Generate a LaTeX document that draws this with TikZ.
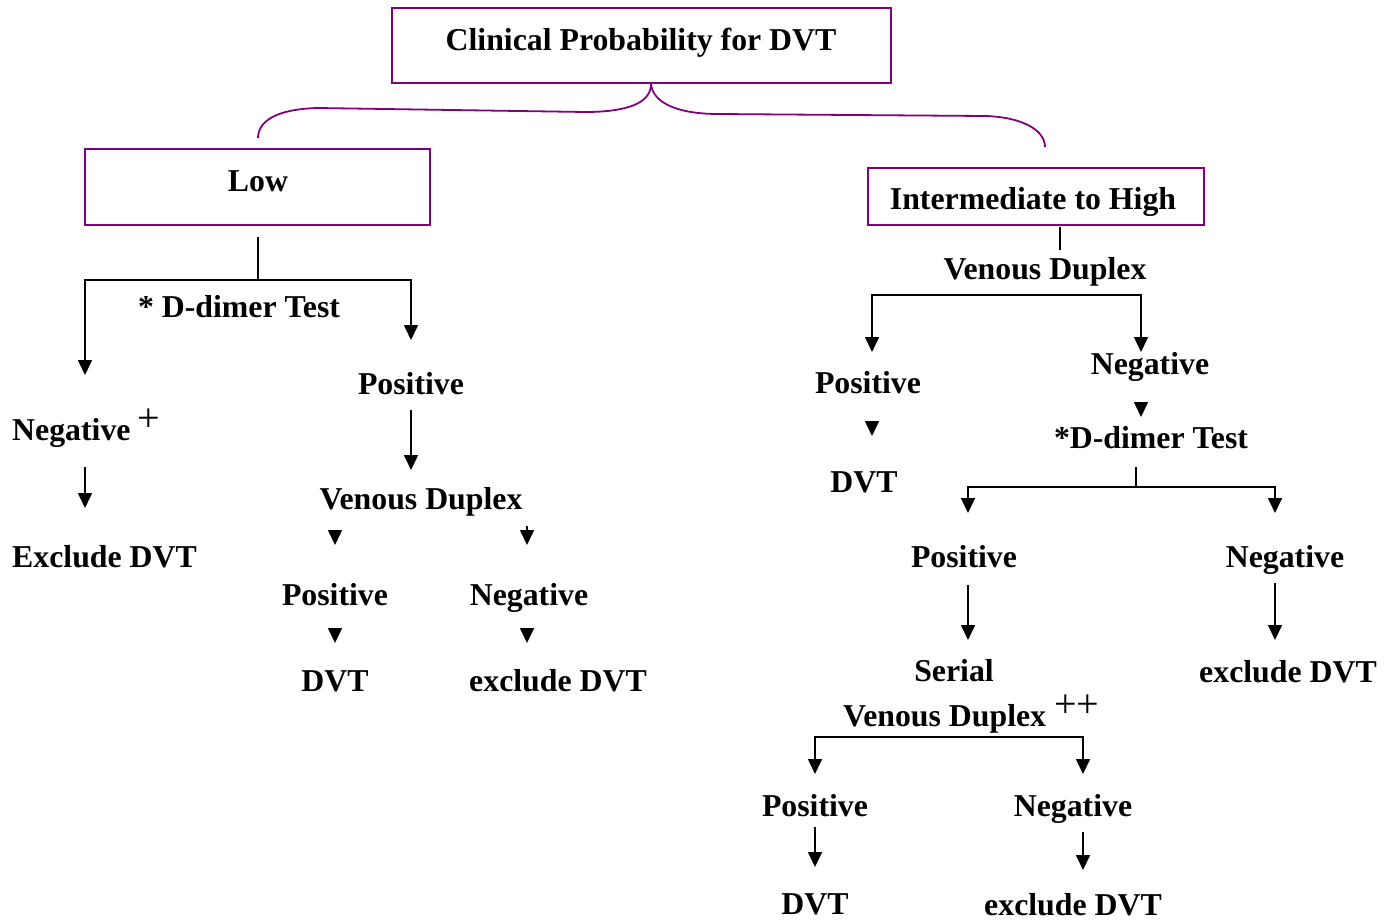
\documentclass[tikz,border=0pt]{standalone}
\usepackage{fontspec}
\setmainfont{Liberation Serif}
\usetikzlibrary{arrows.meta}
\definecolor{boxpurple}{RGB}{128,0,128}
\newcommand{\supplus}[1]{\raisebox{0.26em}{\fontsize{40}{44}\selectfont\mdseries #1}}
\begin{document}
\begin{tikzpicture}[x=1pt,y=-1pt,
  lbl/.style={font=\fontsize{31.8}{38}\selectfont\bfseries, inner sep=0pt, anchor=base},
  lblw/.style={lbl, anchor=base west},
  pbox/.style={draw=boxpurple, line width=1.8pt},
  brace/.style={draw=boxpurple, line width=1.8pt},
  conn/.style={draw=black, line width=1.6pt},
  arr/.style={conn, -{Triangle[width=14pt,length=15pt]}}
]
\useasboundingbox (0,0) rectangle (1392,921);

% boxes
\draw[pbox] (392,8) rectangle (891,83);
\node[lbl] (title) at (641,50) {Clinical Probability for DVT};
\draw[pbox] (85,149) rectangle (430,225);
\node[lbl] (low) at (258,191) {Low};
\draw[pbox] (868,168) rectangle (1204,225);
\node[lbl] (high) at (1033,209) {Intermediate to High};

% brace
\coordinate (tip) at (651,84);
\coordinate (bl) at (258,138);
\coordinate (br) at (1045,147);
\draw[brace] (tip) .. controls (651,104) and (625,112) .. (585,112) -- (318,108) .. controls (275,109) and (258,122) .. (bl);
\draw[brace] (tip) .. controls (653,104) and (680,114) .. (718,114) -- (985,116) .. controls (1022,117) and (1045,130) .. (br);

% ---------- left branch ----------
\coordinate (l0) at (258,237);
\coordinate (l1) at (258,280);
\coordinate (lL) at (85,280);
\coordinate (lR) at (411,280);
\coordinate (lLt) at (85,375);
\coordinate (lRt) at (411,340);
\draw[conn] (l0) -- (l1);
\draw[arr] (l1) -- (lL) -- (lLt);
\draw[arr] (l1) -- (lR) -- (lRt);
\node[lbl] (ddl) at (239,317) {* D-dimer Test};
\node[lbl] (posl) at (411,394) {Positive};
\node[lblw] (negl) at (12,440) {Negative\hspace{7pt}\supplus{+}};
\coordinate (a1s) at (85,467);
\coordinate (a1e) at (85,508);
\draw[arr] (a1s) -- (a1e);
\node[lblw] (exl) at (12,567) {Exclude DVT};
\coordinate (a2s) at (411,410);
\coordinate (a2e) at (411,470);
\draw[arr] (a2s) -- (a2e);
\node[lbl] (vdl) at (421,509) {Venous Duplex};
\coordinate (h1s) at (335,530);
\coordinate (h1e) at (335,545);
\coordinate (h2s) at (527,526);
\coordinate (h2e) at (527,545);
\draw[arr] (h1s) -- (h1e);
\draw[arr] (h2s) -- (h2e);
\node[lbl] (posl2) at (335,605) {Positive};
\node[lbl] (negl2) at (529,605) {Negative};
\coordinate (h3s) at (335,628);
\coordinate (h3e) at (335,643);
\coordinate (h4s) at (527,628);
\coordinate (h4e) at (527,643);
\draw[arr] (h3s) -- (h3e);
\draw[arr] (h4s) -- (h4e);
\node[lbl] (dvtl) at (335,691) {DVT};
\node[lbl] (exl2) at (558,691) {exclude DVT};

% ---------- right branch ----------
\coordinate (r0) at (1060,227);
\coordinate (r0e) at (1060,250);
\draw[conn] (r0) -- (r0e);
\node[lbl] (vdr) at (1045,279) {Venous Duplex};
\coordinate (rL) at (872,295);
\coordinate (rR) at (1141,295);
\coordinate (rLt) at (872,352);
\coordinate (rRt) at (1141,352);
\draw[arr] (rR) -- (rL) -- (rLt);
\draw[arr] (rL) -- (rR) -- (rRt);
\node[lbl] (posr) at (868,393) {Positive};
\node[lbl] (negr) at (1150,374) {Negative};
\coordinate (h5s) at (1141,402);
\coordinate (h5e) at (1141,417);
\draw[arr] (h5s) -- (h5e);
\node[lbl] (ddr) at (1151,448) {*D-dimer Test};
\coordinate (h6s) at (872,421);
\coordinate (h6e) at (872,436);
\draw[arr] (h6s) -- (h6e);
\node[lbl] (dvtr) at (864,492) {DVT};
\coordinate (r1) at (1136,467);
\coordinate (r2) at (1136,487);
\coordinate (r2L) at (968,487);
\coordinate (r2R) at (1275,487);
\coordinate (r2Lt) at (968,513);
\coordinate (r2Rt) at (1275,513);
\draw[conn] (r1) -- (r2);
\draw[arr] (r2) -- (r2L) -- (r2Lt);
\draw[arr] (r2) -- (r2R) -- (r2Rt);
\node[lbl] (posr2) at (964,567) {Positive};
\node[lbl] (negr2) at (1285,567) {Negative};
\coordinate (a3s) at (968,585);
\coordinate (a3e) at (968,640);
\coordinate (a4s) at (1275,583);
\coordinate (a4e) at (1275,640);
\draw[arr] (a3s) -- (a3e);
\draw[arr] (a4s) -- (a4e);
\node[lbl] (serial) at (954,681) {Serial};
\node[lbl] (exr) at (1288,682) {exclude DVT};
\node[lblw] (svd) at (843,726) {Venous Duplex\hspace{8pt}\supplus{++}};
\coordinate (r3L) at (815,737);
\coordinate (r3R) at (1083,737);
\coordinate (r3Lt) at (815,774);
\coordinate (r3Rt) at (1083,774);
\draw[arr] (r3R) -- (r3L) -- (r3Lt);
\draw[arr] (r3L) -- (r3R) -- (r3Rt);
\node[lbl] (posr3) at (815,816) {Positive};
\node[lbl] (negr3) at (1073,816) {Negative};
\coordinate (a5s) at (815,827);
\coordinate (a5e) at (815,867);
\coordinate (a6s) at (1083,832);
\coordinate (a6e) at (1083,870);
\draw[arr] (a5s) -- (a5e);
\draw[arr] (a6s) -- (a6e);
\node[lbl] (dvtr3) at (815,914) {DVT};
\node[lbl] (exr3) at (1073,915) {exclude DVT};
\end{tikzpicture}
\end{document}
